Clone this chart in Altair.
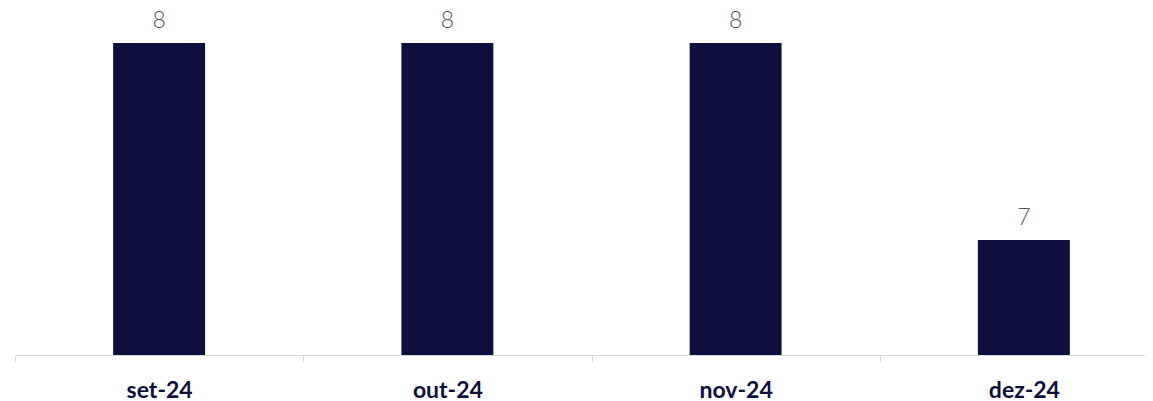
import altair as alt
import pandas as pd

months = ["set-24", "out-24", "nov-24", "dez-24"]
values = [8, 8, 8, 7]

df = pd.DataFrame({"mes": months, "valor": values})

x = alt.X("mes:N", sort=months,
          scale=alt.Scale(range=[0, 1153], paddingInner=0, paddingOuter=0),
          axis=alt.Axis(title=None, labelAngle=0, labelFont="Lato", labelFontSize=23,
                        labelFontWeight="bold", labelColor="#0f0f3c", labelPadding=35,
                        domainColor="#d9d9d9", tickColor="#d9d9d9", tickSize=7,
                        tickBand="extent", labelBaseline="alphabetic"))
y = alt.Y("valor:Q", scale=alt.Scale(domain=[6.416, 8.178], zero=False, nice=False),
          axis=None)

bars = alt.Chart(df).mark_bar(color="#0e0f3c", clip=True,
                              width=alt.RelativeBandSize(0.319)).encode(x=x, y=y)
labels = alt.Chart(df).mark_text(font="Lato", fontSize=23, fontWeight=300,
                                 color="#595959", baseline="alphabetic", dy=-15).encode(
    x=x, y=y, text=alt.Text("valor:Q", format=".0f"))

chart = (bars + labels).properties(
    width=1130, height=347,
    autosize=alt.AutoSizeParams(type="none"),
    padding={"left": 7, "top": 0, "right": 0, "bottom": 46},
).configure_view(stroke=None)

chart.save("out.html", embed_options={"renderer": "svg", "actions": False})
